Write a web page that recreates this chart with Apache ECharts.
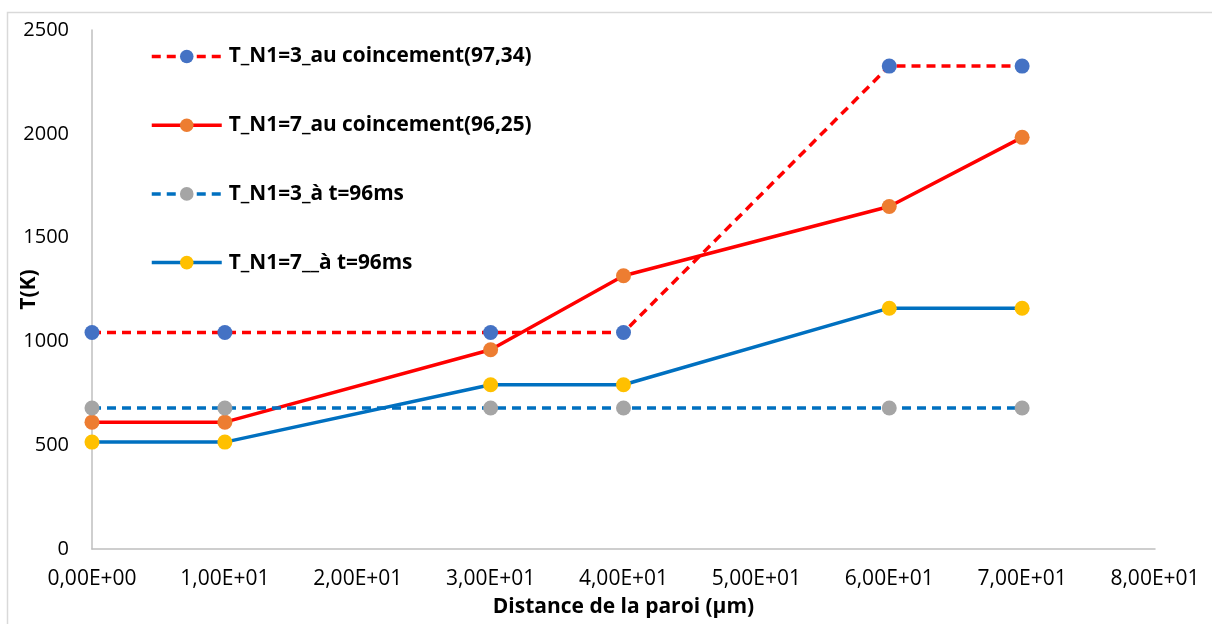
<!DOCTYPE html>
<html>
<head>
<meta charset="utf-8">
<script src="https://cdn.jsdelivr.net/npm/echarts@6/dist/echarts.min.js"></script>
<style>
  html, body { margin: 0; padding: 0; background: #fff; }
  #chart { width: 1212px; height: 624px; }
</style>
</head>
<body>
<div id="chart"></div>
<script>
// Distance from the wall (µm)
const distances = [0, 10, 30, 40, 60, 70];

// Temperatures (K)
const tN3Pinch = [1043, 1043, 1043, 1043, 2326, 2326];
const tN7Pinch = [611, 611, 960, 1316, 1650, 1983];
const tN3At96 = [679, 679, 679, 679, 679, 679];
const tN7At96 = [515, 515, 791, 791, 1160, 1160];

const seriesNames = [
  'T_N1=3_au coincement(97,34)',
  'T_N1=7_au coincement(96,25)',
  'T_N1=3_à t=96ms',
  'T_N1=7__à t=96ms'
];

const FONT = '"Open Sans", "Noto Sans", sans-serif';

function pairs(ys) {
  return distances.map((x, i) => [x, ys[i]]);
}

// Spreadsheet-style scientific notation with a decimal comma: 1,00E+01
function formatSci(v) {
  if (v === 0) return '0,00E+00';
  const e = Math.floor(Math.log10(Math.abs(v)));
  const m = v / Math.pow(10, e);
  const sign = e < 0 ? '-' : '+';
  const ex = String(Math.abs(e)).padStart(2, '0');
  return m.toFixed(2).replace('.', ',') + 'E' + sign + ex;
}

function makeSeries(name, ys, lineColor, markerColor, dashed) {
  return {
    name: name,
    type: 'line',
    data: pairs(ys),
    symbol: 'circle',
    symbolSize: 15,
    showAllSymbol: true,
    lineStyle: {
      color: lineColor,
      width: 3.5,
      type: dashed ? [9, 6] : 'solid'
    },
    itemStyle: { color: markerColor, borderWidth: 0 },
    emphasis: { disabled: true },
    animation: false
  };
}

const chart = echarts.init(document.getElementById('chart'), null, { renderer: 'canvas' });

chart.setOption({
  backgroundColor: '#ffffff',
  animation: false,
  graphic: [{
    type: 'rect',
    shape: { x: 7.5, y: 12.5, width: 1300, height: 700 },
    style: { fill: 'none', stroke: '#D9D9D9', lineWidth: 1.5 },
    silent: true,
    z: -10
  }],
  grid: { left: 92, right: 57, top: 30, bottom: 75, containLabel: false, outerBoundsMode: 'none' },
  legend: {
    orient: 'vertical',
    left: 145,
    top: 41,
    itemWidth: 70,
    itemHeight: 17,
    itemGap: 47.7,
    data: seriesNames,
    lineStyle: { width: 3.5 },
    textStyle: {
      fontFamily: FONT,
      fontSize: 20.8,
      fontWeight: 'bold',
      color: '#000',
      lineHeight: 20,
      padding: [0, 0, 0, 2]
    }
  },
  xAxis: {
    type: 'value',
    min: 0,
    max: 80,
    interval: 10,
    name: 'Distance de la paroi (µm)',
    nameLocation: 'middle',
    nameGap: 48,
    nameMoveOverlap: false,
    nameTextStyle: { fontFamily: FONT, fontSize: 21, fontWeight: 'bold', color: '#000' },
    axisLine: { show: true, lineStyle: { color: '#BFBFBF', width: 1.5 } },
    axisTick: { show: false },
    splitLine: { show: false },
    axisLabel: {
      fontFamily: FONT, fontSize: 21, color: '#000', margin: 20,
      formatter: formatSci
    }
  },
  yAxis: {
    type: 'value',
    min: 0,
    max: 2500,
    interval: 500,
    name: 'T(K)',
    nameLocation: 'middle',
    nameGap: 52,
    nameRotate: 90,
    nameMoveOverlap: false,
    nameTextStyle: { fontFamily: FONT, fontSize: 21, fontWeight: 'bold', color: '#000' },
    axisLine: { show: true, lineStyle: { color: '#BFBFBF', width: 1.5 } },
    axisTick: { show: false },
    splitLine: { show: false },
    axisLabel: {
      fontFamily: FONT, fontSize: 20, color: '#000', margin: 23,
      formatter: (v) => String(v)
    }
  },
  series: [
    makeSeries(seriesNames[0], tN3Pinch, '#FF0000', '#4472C4', true),
    makeSeries(seriesNames[1], tN7Pinch, '#FF0000', '#ED7D31', false),
    makeSeries(seriesNames[2], tN3At96, '#0070C0', '#A5A5A5', true),
    makeSeries(seriesNames[3], tN7At96, '#0070C0', '#FFC000', false)
  ]
});
</script>
</body>
</html>
